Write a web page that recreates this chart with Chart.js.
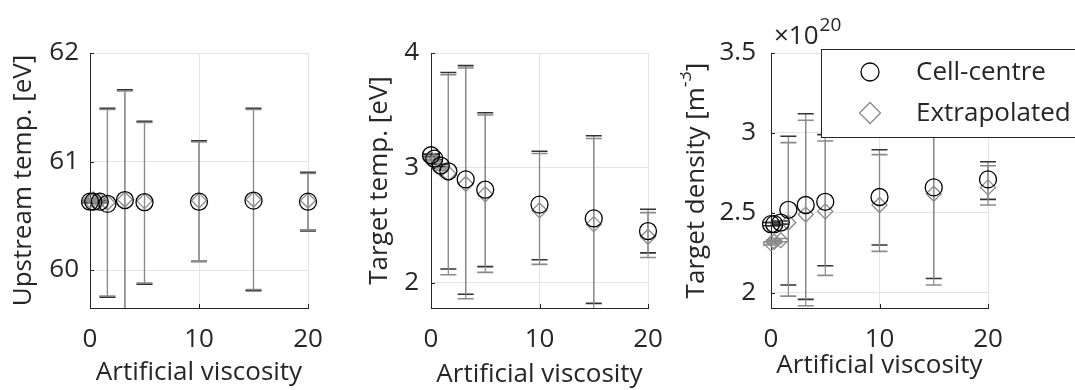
<!DOCTYPE html>
<html><head><meta charset="utf-8">
<script src="https://cdn.jsdelivr.net/npm/chart.js@4.4.0/dist/chart.umd.min.js"></script>
<style>
html,body{margin:0;padding:0;background:#fff;width:1075px;height:390px;overflow:hidden}
.p{position:absolute;top:0;height:390px}
canvas{display:block}
</style></head><body>
<div class="p" style="left:0;width:340px"><canvas id="c1" width="340" height="390"></canvas></div>
<div class="p" style="left:340px;width:340px"><canvas id="c2" width="340" height="390"></canvas></div>
<div class="p" style="left:680px;width:395px"><canvas id="c3" width="395" height="390"></canvas></div>
<script>
// ---------- data ----------
const viscosity = [0, 0.3, 0.9, 1.6, 3.2, 5, 10, 15, 20];
const xTicks = [0, 10, 20];
const seriesNames = ['Cell-centre', 'Extrapolated'];

// Upstream temperature [eV]
const upCell   = [60.63, 60.63, 60.63, 60.61, 60.645, 60.625, 60.63, 60.64, 60.63];
const upCellLo = [60.62, 60.62, 60.62, 59.75, 59.60, 59.87, 60.08, 59.81, 60.36];
const upCellHi = [60.64, 60.64, 60.64, 61.49, 61.66, 61.37, 61.19, 61.49, 60.90];
const upExtr   = [60.64, 60.65, 60.64, 60.62, 60.65, 60.635, 60.64, 60.65, 60.64];
const upExtrLo = [60.63, 60.64, 60.63, 59.76, 59.60, 59.88, 60.08, 59.82, 60.37];
const upExtrHi = [60.65, 60.66, 60.65, 61.48, 61.65, 61.36, 61.18, 61.48, 60.89];
const upTicks  = [60, 61, 62];

// Target temperature [eV]
const ttCell   = [3.11, 3.08, 3.02, 2.97, 2.90, 2.81, 2.68, 2.56, 2.45];
const ttCellLo = [3.10, 3.07, 3.01, 2.12, 1.90, 2.14, 2.20, 1.82, 2.26];
const ttCellHi = [3.12, 3.09, 3.03, 3.83, 3.89, 3.48, 3.145, 3.28, 2.64];
const ttExtr   = [3.08, 3.05, 2.99, 2.95, 2.86, 2.77, 2.63, 2.51, 2.40];
const ttExtrLo = [3.07, 3.04, 2.98, 2.07, 1.86, 2.09, 2.16, 1.76, 2.22];
const ttExtrHi = [3.09, 3.06, 3.00, 3.81, 3.87, 3.46, 3.125, 3.255, 2.61];
const ttTicks  = [2, 3, 4];

// Target density [1e20 m^-3]
const tdCell   = [2.43, 2.43, 2.44, 2.52, 2.55, 2.57, 2.60, 2.66, 2.71];
const tdCellLo = [2.42, 2.42, 2.43, 2.05, 1.96, 2.17, 2.30, 2.09, 2.585];
const tdCellHi = [2.44, 2.44, 2.45, 2.98, 3.12, 2.99, 2.895, 3.30, 2.82];
const tdExtr   = [2.31, 2.32, 2.33, 2.44, 2.49, 2.51, 2.55, 2.62, 2.66];
const tdExtrLo = [2.30, 2.31, 2.32, 1.98, 1.92, 2.11, 2.26, 2.05, 2.55];
const tdExtrHi = [2.32, 2.33, 2.34, 2.94, 3.08, 2.95, 2.865, 3.26, 2.795];
const tdTicks  = [2, 2.5, 3, 3.5];

// ---------- styling ----------
const FONT = 'Open Sans';
const FS = 26;
const AX = '#262626';
const GRID = '#e4e4e4';
const CIRC = '#000000';
const DIAM = '#8a8a8a';

const pts = (xs, ys) => xs.map((x, i) => ({x, y: ys[i]}));

const errorBars = {
  id: 'errorBars',
  beforeDatasetsDraw(chart, args, opts) {
    const {ctx, chartArea: a, scales: {x, y}} = chart;
    ctx.save();
    ctx.beginPath();
    ctx.rect(a.left - 30, a.top, a.right - a.left + 60, a.bottom - a.top);
    ctx.clip();
    opts.bars.forEach(b => {
      viscosity.forEach((v, i) => {
        const px = x.getPixelForValue(v);
        const lo = y.getPixelForValue(b.lo[i]);
        const hi = y.getPixelForValue(b.hi[i]);
        ctx.lineWidth = 1.2;
        ctx.strokeStyle = DIAM;
        ctx.beginPath(); ctx.moveTo(px, lo); ctx.lineTo(px, hi); ctx.stroke();
        ctx.lineWidth = 1.6;
        ctx.strokeStyle = b.color;
        ctx.beginPath();
        ctx.moveTo(px - 8, lo); ctx.lineTo(px + 8, lo);
        ctx.moveTo(px - 8, hi); ctx.lineTo(px + 8, hi);
        ctx.stroke();
      });
    });
    ctx.restore();
  }
};

const inwardTicks = {
  id: 'inwardTicks',
  afterDraw(chart) {
    const {ctx, chartArea: a, scales: {x, y}} = chart;
    ctx.save();
    ctx.strokeStyle = AX; ctx.lineWidth = 1;
    x.ticks.forEach(t => {
      const px = Math.round(x.getPixelForValue(t.value)) + 0.5;
      ctx.beginPath(); ctx.moveTo(px, a.bottom); ctx.lineTo(px, a.bottom - 4); ctx.stroke();
    });
    y.ticks.forEach(t => {
      const py = Math.round(y.getPixelForValue(t.value)) + 0.5;
      ctx.beginPath(); ctx.moveTo(a.left, py); ctx.lineTo(a.left + 4, py); ctx.stroke();
    });
    ctx.restore();
  }
};

const densityExtras = {
  id: 'densityExtras',
  afterDraw(chart) {
    const {ctx, chartArea: a} = chart;
    ctx.save();
    // exponent label
    ctx.fillStyle = AX;
    ctx.textBaseline = 'alphabetic';
    ctx.textAlign = 'left';
    ctx.font = `${FS}px "${FONT}"`;
    const base = '\u00d710';
    ctx.fillText(base, 94, 44);
    const w = ctx.measureText(base).width;
    ctx.font = `19px "${FONT}"`;
    ctx.fillText('20', 94 + w + 1, 31);

    // y title with superscript
    ctx.save();
    ctx.translate(17, (a.top + a.bottom) / 2);
    ctx.rotate(-Math.PI / 2);
    ctx.textBaseline = 'middle';
    const p1 = 'Target density [m', p2 = '-3', p3 = ']';
    ctx.font = `${FS}px "${FONT}"`;
    const w1 = ctx.measureText(p1).width, w3 = ctx.measureText(p3).width;
    ctx.font = `18px "${FONT}"`;
    const w2 = ctx.measureText(p2).width;
    let sx = -(w1 + w2 + w3) / 2;
    ctx.font = `${FS}px "${FONT}"`;
    ctx.fillText(p1, sx, 0); sx += w1;
    ctx.font = `18px "${FONT}"`;
    ctx.fillText(p2, sx, -11); sx += w2;
    ctx.font = `${FS}px "${FONT}"`;
    ctx.fillText(p3, sx, 0);
    ctx.restore();

    // legend
    const lx = 141.5, ly = 49.5, lw = 300, lh = 88;
    ctx.fillStyle = '#fff';
    ctx.fillRect(lx, ly, lw, lh);
    ctx.strokeStyle = AX; ctx.lineWidth = 1;
    ctx.strokeRect(lx, ly, lw, lh);
    const ds = chart.data.datasets;
    const rows = [72, 113];
    ds.forEach((d, i) => {
      ctx.strokeStyle = d.borderColor;
      ctx.fillStyle = 'rgba(0,0,0,0)';
      ctx.lineWidth = d.pointBorderWidth;
      Chart.helpers.drawPoint(ctx, {pointStyle: d.pointStyle, radius: i === 0 ? 9 : 10.5, rotation: 0, borderWidth: d.pointBorderWidth}, 190, rows[i]);
      ctx.fillStyle = AX;
      ctx.font = `${FS}px "${FONT}"`;
      ctx.textBaseline = 'middle';
      ctx.textAlign = 'left';
      ctx.fillText(d.label, 236, rows[i] + 1);
    });
    ctx.restore();
  }
};

function makeChart(id, cfg) {
  const tickFont = {family: FONT, size: FS};
  const plugins = [errorBars, inwardTicks];
  if (cfg.extra) plugins.push(cfg.extra);
  return new Chart(document.getElementById(id), {
    type: 'scatter',
    data: {
      datasets: [
        {label: seriesNames[0], data: pts(viscosity, cfg.cell), pointStyle: 'circle', pointRadius: 8.5,
         borderColor: CIRC, backgroundColor: 'rgba(0,0,0,0)', pointBorderWidth: 1.3, borderWidth: 1.3, clip: false, order: 1},
        {label: seriesNames[1], data: pts(viscosity, cfg.extr), pointStyle: 'rectRot', pointRadius: 7.5,
         borderColor: DIAM, backgroundColor: 'rgba(0,0,0,0)', pointBorderWidth: 1.3, borderWidth: 1.3, clip: false, order: 2}
      ]
    },
    options: {
      responsive: false, animation: false, devicePixelRatio: 1,
      layout: {padding: {top: 53, right: cfg.right, bottom: 0, left: 0}},
      plugins: {legend: {display: false}, tooltip: {enabled: false},
        errorBars: {bars: [
          {lo: cfg.cellLo, hi: cfg.cellHi, color: '#333333'},
          {lo: cfg.extrLo, hi: cfg.extrHi, color: DIAM}
        ]}},
      scales: {
        x: {
          type: 'linear', min: 0, max: 20,
          afterBuildTicks: s => { s.ticks = xTicks.map(v => ({value: v})); },
          afterFit: s => { s.height = 82; },
          grid: {color: GRID, drawTicks: false},
          border: {color: AX, width: 1},
          ticks: {padding: 16, color: AX, font: tickFont, maxRotation: 0},
          title: {display: true, text: 'Artificial viscosity', color: AX, font: tickFont,
                  padding: {top: 0, bottom: cfg.xtPad}}
        },
        y: {
          type: 'linear', min: cfg.ymin, max: cfg.ymax,
          afterBuildTicks: s => { s.ticks = cfg.ticks.map(v => ({value: v})); },
          afterFit: s => { s.width = cfg.yw; },
          grid: {color: GRID, drawTicks: false},
          border: {color: AX, width: 1},
          ticks: {padding: cfg.tpad, color: AX, font: tickFont, callback: v => String(v)},
          title: {display: !!cfg.title, text: cfg.title || '', color: AX, font: tickFont,
                  padding: {top: cfg.titlePad, bottom: 0}}
        }
      }
    },
    plugins
  });
}

makeChart('c1', {cell: upCell, cellLo: upCellLo, cellHi: upCellHi, extr: upExtr, extrLo: upExtrLo, extrHi: upExtrHi,
  ticks: upTicks, ymin: 59.65, ymax: 62, yw: 90, right: 32, tpad: 11, title: 'Upstream temp. [eV]', titlePad: 7.5, xtPad: 2});
makeChart('c2', {cell: ttCell, cellLo: ttCellLo, cellHi: ttCellHi, extr: ttExtr, extrLo: ttExtrLo, extrHi: ttExtrHi,
  ticks: ttTicks, ymin: 1.78, ymax: 4, yw: 91, right: 32, tpad: 12, title: 'Target temp. [eV]', titlePad: 24, xtPad: 0});
makeChart('c3', {cell: tdCell, cellLo: tdCellLo, cellHi: tdCellHi, extr: tdExtr, extrLo: tdExtrLo, extrHi: tdExtrHi,
  ticks: tdTicks, ymin: 1.906, ymax: 3.5, yw: 91, right: 87, tpad: 15, title: null, titlePad: 0, xtPad: 9, extra: densityExtras});
</script>
</body></html>
